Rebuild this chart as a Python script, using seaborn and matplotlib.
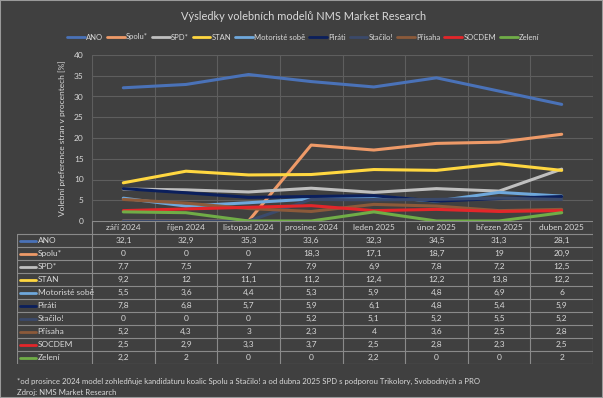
import pandas as pd
import seaborn as sns
import matplotlib.pyplot as plt
from matplotlib.lines import Line2D
from matplotlib.patches import Rectangle

months = ["září 2024", "říjen 2024", "listopad 2024", "prosinec 2024",
          "leden 2025", "únor 2025", "březen 2025", "duben 2025"]
parties = ["ANO", "Spolu*", "SPD*", "STAN", "Motoristé sobě", "Piráti",
           "Stačilo!", "Přísaha", "SOCDEM", "Zelení"]
ano = [32.1, 32.9, 35.3, 33.6, 32.3, 34.5, 31.3, 28.1]
spolu = [0, 0, 0, 18.3, 17.1, 18.7, 19, 20.9]
spd = [7.7, 7.5, 7, 7.9, 6.9, 7.8, 7.2, 12.5]
stan = [9.2, 12, 11.1, 11.2, 12.4, 12.2, 13.8, 12.2]
motoriste = [5.5, 3.6, 4.4, 5.3, 5.9, 4.8, 6.9, 6]
pirati = [7.8, 6.8, 5.7, 5.9, 6.1, 4.8, 5.4, 5.9]
stacilo = [0, 0, 0, 5.2, 5.1, 5.2, 5.5, 5.2]
prisaha = [5.2, 4.3, 3, 2.3, 4, 3.6, 2.5, 2.8]
socdem = [2.5, 2.9, 3.3, 3.7, 2.5, 2.8, 2.3, 2.5]
zeleni = [2.2, 2, 0, 0, 2.2, 0, 0, 2]
series = [ano, spolu, spd, stan, motoriste, pirati, stacilo, prisaha, socdem, zeleni]
colors = ["#4A72B8", "#EE9A68", "#BFBFBF", "#FFD740", "#6FA8DC",
          "#0B1F5C", "#3B4A6B", "#8C5A3A", "#E3262A", "#70AD47"]

bg = "#404040"
txt = "#D9D9D9"
grid = "#5E5E5E"
font = ["Lato", "DejaVu Sans"]

rows = []
for p, vals in zip(parties, series):
    for i, v in enumerate(vals):
        rows.append({"strana": p, "mesic": i, "hodnota": v})
df = pd.DataFrame(rows)

sns.set_theme(style="dark")
plt.rcParams["font.family"] = font

fig = plt.figure(figsize=(6.03, 3.98), dpi=100, facecolor=bg)
ax = fig.add_axes([92 / 603, 1 - 221 / 398, 501 / 603, 166 / 398])
ax.set_facecolor(bg)

sns.lineplot(data=df, x="mesic", y="hodnota", hue="strana", hue_order=parties,
             palette=colors, linewidth=2.2, sort=False, legend=False, ax=ax)

ax.set_xlim(-0.5, 7.5)
ax.set_ylim(0, 40)
ax.set_yticks(range(0, 41, 5))
ax.set_xticks([i + 0.5 for i in range(-1, 8)])
ax.set_xticklabels([])
ax.grid(True, color=grid, linewidth=0.8)
ax.tick_params(axis="y", colors=txt, labelsize=6, length=0, pad=6)
ax.tick_params(axis="x", length=0)
for s in ax.spines.values():
    s.set_visible(False)
ax.set_xlabel("")
ax.set_ylabel("Volební preference stran v procentech [%]", color=txt, fontsize=6, labelpad=6)

# data table below the plot
tab = fig.add_axes([17 / 603, 1 - 364 / 398, 576 / 603, 143 / 398])
tab.set_facecolor(bg)
tab.set_xlim(-1.7, 7.5)
tab.set_ylim(11, 0)
tab.axis("off")
line_kw = dict(color="#8A8A8A", linewidth=0.8)
tab.plot([-0.5, 7.5], [0, 0], **line_kw)
for r in range(1, 12):
    tab.plot([-1.7, 7.5], [r, r], **line_kw)
for c in range(9):
    tab.plot([c - 0.5, c - 0.5], [0, 11], **line_kw)
tab.plot([-1.7, -1.7], [1, 11], **line_kw)
for i, m in enumerate(months):
    tab.text(i, 0.5, m, ha="center", va="center", color=txt, fontsize=6)
for r, (p, vals, col) in enumerate(zip(parties, series, colors), start=1):
    tab.plot([-1.65, -1.4], [r + 0.5, r + 0.5], color=col, linewidth=2)
    tab.text(-1.37, r + 0.5, p, ha="left", va="center", color=txt, fontsize=6)
    for i, v in enumerate(vals):
        s = str(int(v)) if float(v).is_integer() else str(v).replace(".", ",")
        tab.text(i, r + 0.5, s, ha="center", va="center", color=txt, fontsize=6)

handles = [Line2D([], [], color=c, linewidth=2) for c in colors]
fig.legend(handles, parties, loc="center", bbox_to_anchor=(0.503, 1 - 37 / 398), ncol=10,
           frameon=False, fontsize=5.5, labelcolor=txt, handlelength=2.3,
           handletextpad=0.2, columnspacing=0.5)

fig.text(0.503, 1 - 16 / 398, "Výsledky volebních modelů NMS Market Research",
         ha="center", va="center", color=txt, fontsize=7.9)
fig.text(17 / 603, 1 - 381 / 398,
         "*od prosince 2024 model zohledňuje kandidaturu koalic Spolu a Stačilo! a od dubna 2025 "
         "SPD s podporou Trikolory, Svobodných a PRO",
         ha="left", va="center", color=txt, fontsize=5.6)
fig.text(17 / 603, 1 - 392 / 398, "Zdroj: NMS Market Research",
         ha="left", va="center", color=txt, fontsize=5.6)

fig.patches.append(Rectangle((0, 0), 1, 1, transform=fig.transFigure, fill=False,
                             edgecolor="#9A9A9A", linewidth=1.5))

fig.savefig("out.png", dpi=100, facecolor=bg)
